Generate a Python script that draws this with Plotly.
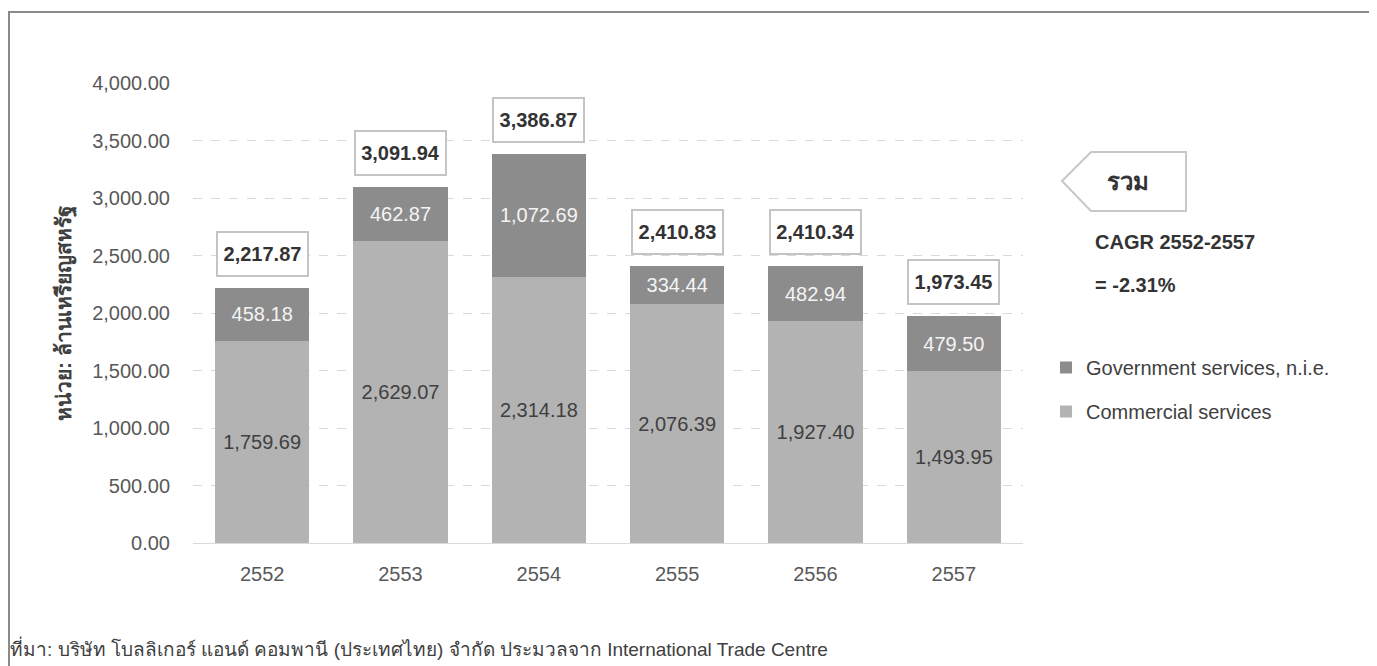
import plotly.graph_objects as go

years = ["2552", "2553", "2554", "2555", "2556", "2557"]
commercial = [1759.69, 2629.07, 2314.18, 2076.39, 1927.40, 1493.95]
government = [458.18, 462.87, 1072.69, 334.44, 482.94, 479.50]
totals = [2217.87, 3091.94, 3386.87, 2410.83, 2410.34, 1973.45]
y_ticks = [0, 500, 1000, 1500, 2000, 2500, 3000, 3500, 4000]
cagr_title = "CAGR 2552-2557"
cagr_value = "= -2.31%"

xpos = list(range(len(years)))

W, H = 1377, 666
OX, OY = 8, 8            # page offset of the figure inside the browser page
L, R, T, B = 185, 362, 75, 131
PW, PH = W - L - R, H - T - B

def px(x):
    return (x - OX - L) / PW

def py(y):
    return (H - B - (y - OY)) / PH

FONT = "Liberation Sans, Arial, Noto Sans, sans-serif"
TXT = "#404040"

fig = go.Figure()
fig.add_trace(go.Bar(
    x=xpos, y=commercial, name="Commercial services",
    marker=dict(color="#b3b3b3", line=dict(width=0)),
    texttemplate="%{y:,.2f}", textposition="inside",
    insidetextanchor="middle", textfont=dict(size=20, color=TXT, family=FONT),
    legendgroup="c", legendrank=2,
))
fig.add_trace(go.Bar(
    x=xpos, y=government, name="Government services, n.i.e.",
    marker=dict(color="#8c8c8c", line=dict(width=0)),
    texttemplate="%{y:,.2f}", textposition="inside",
    insidetextanchor="middle", textfont=dict(size=20, color="#f4f4f4", family=FONT),
    legendgroup="g", legendrank=1,
))

annotations = []
for xi, tot in zip(xpos, totals):
    annotations.append(dict(
        x=xi, y=tot, xref="x", yref="y", text=f"<b>{tot:,.2f}</b>",
        showarrow=False, yshift=34, yanchor="middle", xanchor="center",
        font=dict(size=20, color="#333333", family=FONT),
        bgcolor="white", bordercolor="#c4c4c4", borderwidth=2, borderpad=5,
        width=79, height=32, valign="middle",
    ))

annotations += [
    dict(x=px(1128), y=py(181), xref="paper", yref="paper", text="<b>รวม</b>",
         showarrow=False, font=dict(size=24, color="#333333", family=FONT),
         xanchor="center", yanchor="middle"),
    dict(x=px(1093), y=py(242), xref="paper", yref="paper", text=f"<b>{cagr_title}</b>",
         showarrow=False, font=dict(size=20, color="#333333", family=FONT),
         xanchor="left", yanchor="middle"),
    dict(x=px(1093), y=py(285), xref="paper", yref="paper", text=f"<b>{cagr_value}</b>",
         showarrow=False, font=dict(size=20, color="#333333", family=FONT),
         xanchor="left", yanchor="middle"),
    dict(x=px(8), y=py(648), xref="paper", yref="paper",
         text="ที่มา: บริษัท โบลลิเกอร์ แอนด์ คอมพานี (ประเทศไทย) จำกัด ประมวลจาก International Trade Centre",
         showarrow=False, font=dict(size=19, color=TXT, family=FONT),
         xanchor="left", yanchor="middle"),
]

shapes = [
    dict(type="rect", xref="paper", yref="paper",
         x0=px(OX + 1), x1=px(1370), y0=py(700), y1=py(12),
         line=dict(color="#8a8a8a", width=2), fillcolor="rgba(0,0,0,0)", layer="below"),
    dict(type="path", xref="paper", yref="paper",
         path=(f"M {px(1062)} {py(181)} L {px(1091)} {py(152)} L {px(1186)} {py(152)} "
               f"L {px(1186)} {py(211)} L {px(1091)} {py(211)} Z"),
         line=dict(color="#c8c8c8", width=2), fillcolor="white"),
]

fig.update_layout(
    width=W, height=H,
    margin=dict(l=L, r=R, t=T, b=B, autoexpand=False),
    barmode="stack", bargap=0.32,
    plot_bgcolor="white", paper_bgcolor="white",
    font=dict(family=FONT, color="#595959", size=20),
    showlegend=True,
    legend=dict(x=px(1046), y=py(348), xanchor="left", yanchor="top",
                traceorder="grouped", tracegroupgap=15,
                font=dict(size=20, color=TXT, family=FONT),
                itemwidth=30, bgcolor="rgba(0,0,0,0)"),
    annotations=annotations,
    shapes=shapes,
)
fig.update_xaxes(range=[-0.5, len(years) - 0.5], tickvals=xpos, ticktext=years,
                 showgrid=False, showline=True, linecolor="#d9d9d9", linewidth=1,
                 zeroline=False, ticks="", ticklabelstandoff=13,
                 tickfont=dict(size=20, color="#595959", family=FONT))
fig.update_yaxes(range=[0, 4000], tickvals=y_ticks, tickformat=",.2f",
                 showgrid=True, gridcolor="#d9d9d9", griddash="dash", gridwidth=1,
                 zeroline=False, showline=False, ticks="", ticklabelstandoff=22,
                 tickfont=dict(size=20, color="#595959", family=FONT),
                 title=dict(text="<b>หน่วย: ล้านเหรียญสหรัฐ</b>", standoff=14,
                            font=dict(size=21, color=TXT, family=FONT)))

fig.write_html("out.html")
